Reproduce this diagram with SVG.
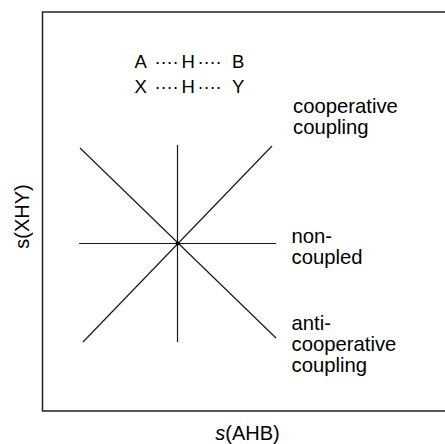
<svg xmlns="http://www.w3.org/2000/svg" width="445" height="444" viewBox="0 0 445 444">
<style>
.t{font-family:"Liberation Sans",Arial,sans-serif;fill:#000}
.lbl{font-size:20.3px}
.f{font-size:18.5px}
.ax{font-size:20px}
.ln{stroke:#1a1a1a;stroke-width:1.2;fill:none}
.frame{stroke:#222;stroke-width:1.5;fill:none}
</style>
<rect width="445" height="444" fill="#fff"/>
<g id="frame">
<path class="frame" d="M447 12 H42.5 V411 H447"/>
</g>
<g id="lines">
<line class="ln" x1="79" y1="243.5" x2="276" y2="243.5"/>
<line class="ln" x1="177.5" y1="145" x2="177.5" y2="342"/>
<line class="ln" x1="80" y1="148" x2="276" y2="338"/>
<line class="ln" x1="272" y1="146" x2="83" y2="342"/>
<circle cx="177.5" cy="243.5" r="2" fill="#000"/>
</g>
<g id="formula">
<text class="t f" x="134.5 154.5 160.5 166.5 172.5 181.5 197.5 203.5 209.5 215.5 232" y="68">A····H····B</text>
<text class="t f" x="134.5 154.5 160.5 166.5 172.5 181.5 197.5 203.5 209.5 215.5 232" y="93">X····H····Y</text>
</g>
<g id="label-cooperative">
<text class="t lbl" x="293" y="113">cooperative</text>
<text class="t lbl" x="293" y="133.5">coupling</text>
</g>
<g id="label-noncoupled">
<text class="t lbl" x="291.5" y="243">non-</text>
<text class="t lbl" x="291.5" y="264">coupled</text>
</g>
<g id="label-anticooperative">
<text class="t lbl" x="291.5" y="330">anti-</text>
<text class="t lbl" x="291.5" y="351">cooperative</text>
<text class="t lbl" x="291.5" y="371.5">coupling</text>
</g>
<g id="axis-x">
<text class="t ax" x="247.5" y="440" text-anchor="middle"><tspan font-style="italic">s</tspan>(AHB)</text>
</g>
<g id="axis-y">
<text class="t ax" transform="translate(29 216.5) rotate(-90)" text-anchor="middle">s(XHY)</text>
</g>
</svg>
